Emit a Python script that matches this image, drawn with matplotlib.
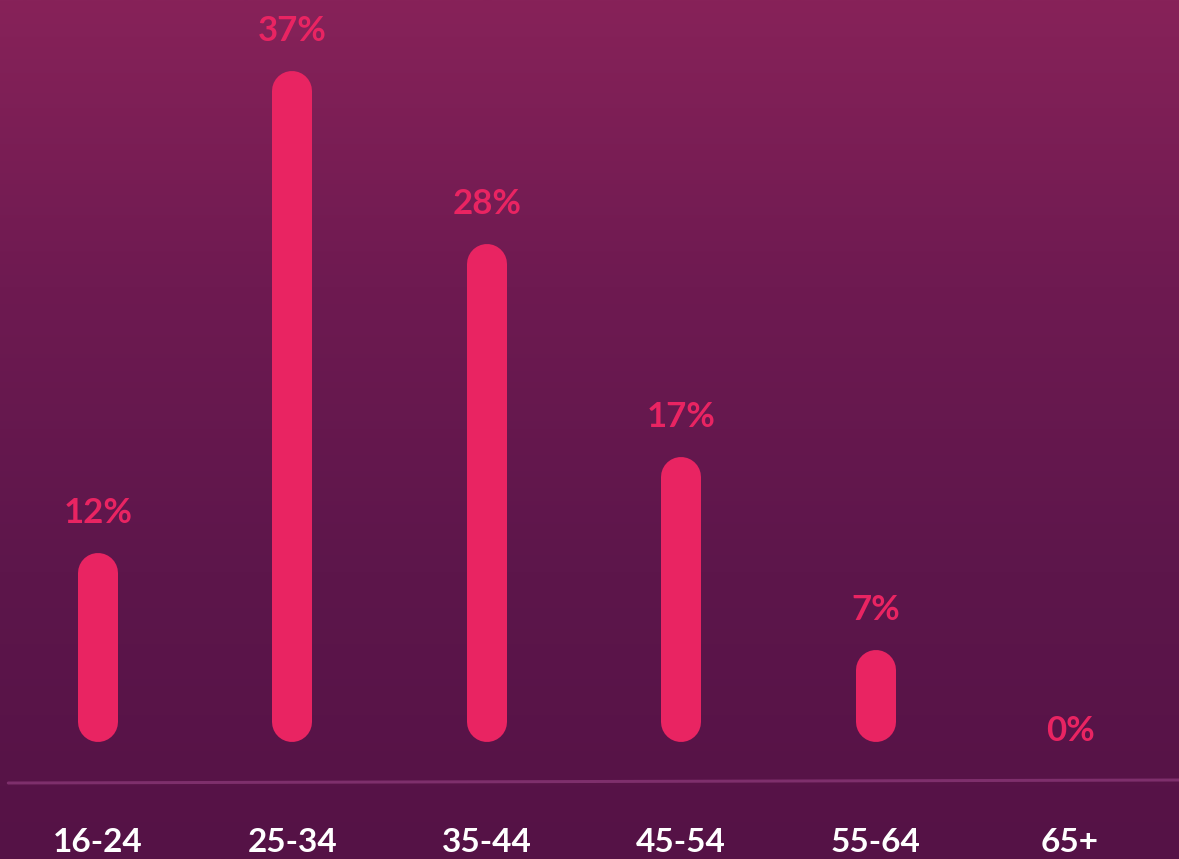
import numpy as np
import matplotlib.pyplot as plt
from matplotlib.colors import LinearSegmentedColormap
from matplotlib.transforms import blended_transform_factory

# Age bands and share of audience (%)
age_groups = ["16-24", "25-34", "35-44", "45-54", "55-64", "65+"]
shares = [12, 37, 28, 17, 7, 0]

W, H, DPI = 1179, 859, 100
bar_color = "#E92462"
label_color = "#E92462"
bg_stops = ["#872259", "#6e1a51", "#5d164b", "#551246"]

fig = plt.figure(figsize=(W / DPI, H / DPI), dpi=DPI)

# Vertical gradient background
bg_ax = fig.add_axes([0, 0, 1, 1], zorder=0)
bg_ax.set_axis_off()
cmap = LinearSegmentedColormap.from_list("bg", bg_stops)
grad = np.linspace(0, 1, 512).reshape(-1, 1)
bg_ax.imshow(grad, cmap=cmap, aspect="auto", extent=[0, 1, 0, 1],
             origin="upper", interpolation="bicubic")
bg_ax.set_xlim(0, 1)
bg_ax.set_ylim(0, 1)

ax = fig.add_axes([0, 0, 1, 1], zorder=1)
ax.patch.set_alpha(0)
ax.set_axis_off()

x = np.arange(len(age_groups))
ax.set_xlim(-0.504, 5.56)
ax.set_ylim(-2.8, 41.7)

# Rounded bars: thick vertical strokes with round caps
bar_px = 40
lw_pt = bar_px * 72 / DPI
base = 4.3
for xi, v in zip(x, shares):
    if v > 0:
        ax.plot([xi, xi], [base, max(v, base)], color=bar_color,
                lw=lw_pt, solid_capstyle="round", zorder=3)

# Value labels above each bar
for xi, v in zip(x, shares):
    yv = v if v > 0 else 0.7
    ax.annotate(f"{v}%", xy=(xi, yv), xytext=(0, 60 * 72 / DPI),
                textcoords="offset points", ha="center", va="center",
                color=label_color, fontsize=25, fontfamily="Lato",
                fontweight="bold", zorder=4)

# Baseline
ax.plot([0.007, 1.0], [1 - 783 / H, 1 - 780 / H], transform=ax.transAxes,
        color="#7e2f6c", lw=3 * 72 / DPI, solid_capstyle="round", zorder=2)

# Category labels along the bottom
trans = blended_transform_factory(ax.transData, ax.transAxes)
for xi, lab in zip(x, age_groups):
    ax.text(xi, 1 - 843 / H, lab, transform=trans, ha="center", va="center",
            color="white", fontsize=24, fontfamily="Lato", fontweight="bold",
            zorder=4)

fig.savefig("out.png", dpi=DPI)
